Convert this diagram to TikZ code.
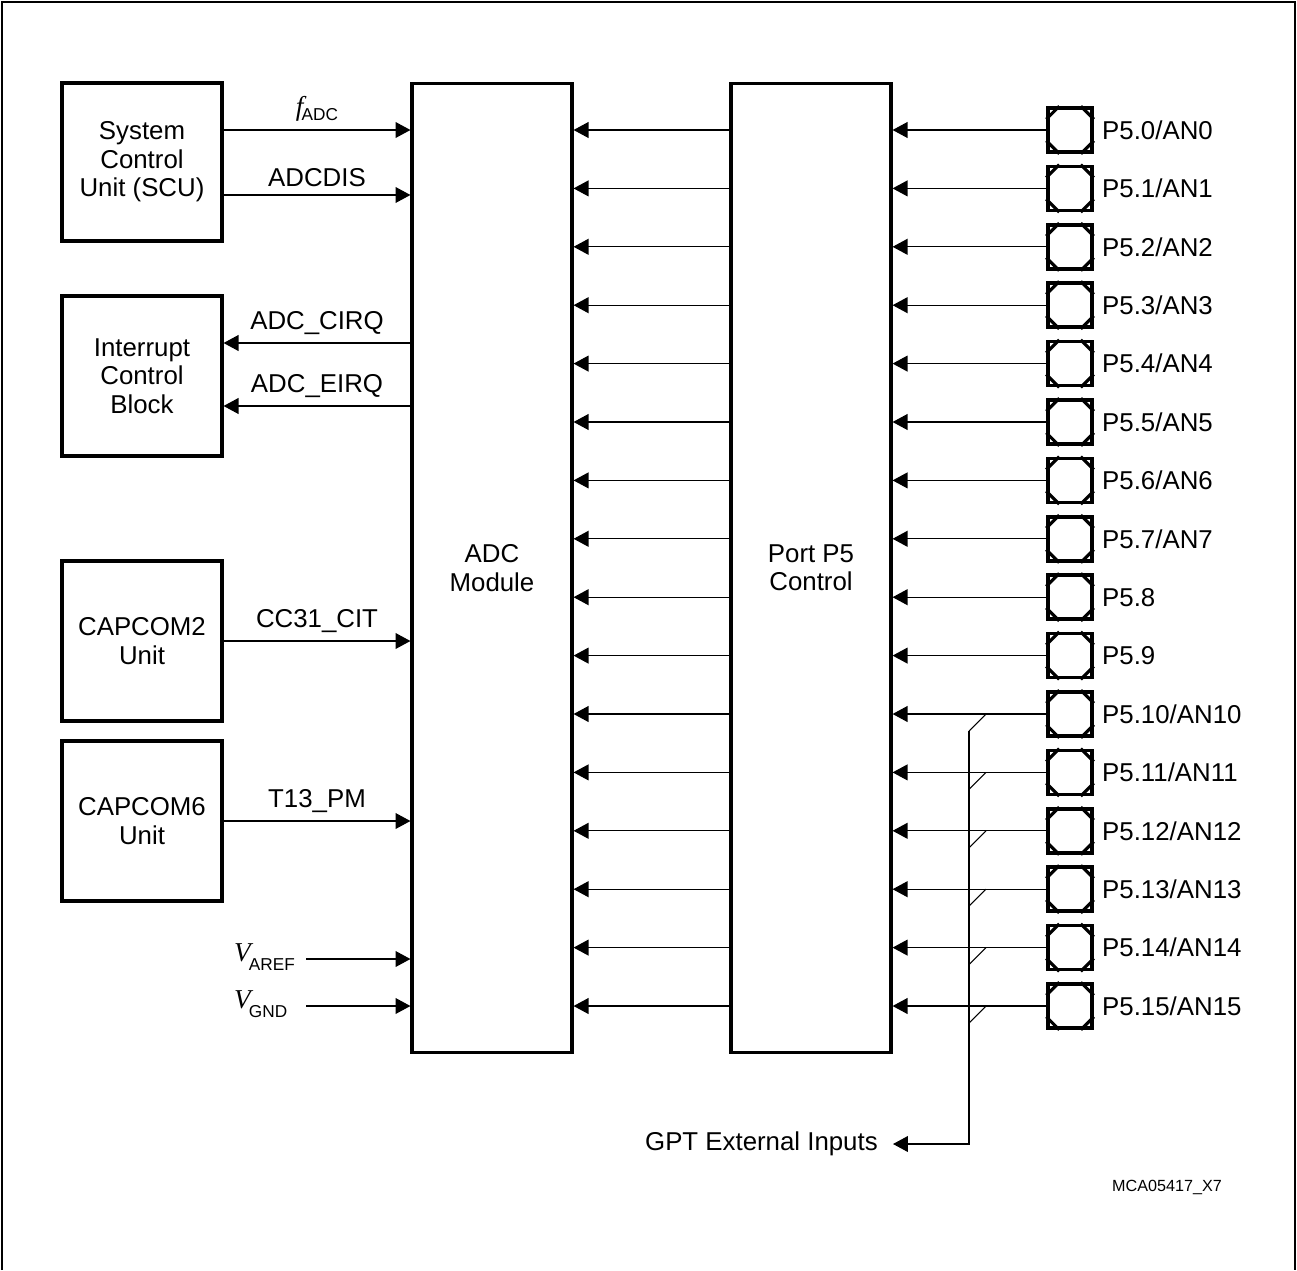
\documentclass[tikz,border=0pt]{standalone}
\usepackage{fontspec}
\setmainfont{Liberation Sans}
\newfontfamily\tms{Liberation Serif}
\usetikzlibrary{arrows.meta, positioning, calc}

% italic symbol with sans subscript
\newcommand\symsub[3]{{\fontsize{15.5}{15}\tms\itshape #1}\kern-1pt\raisebox{#3}{\fontsize{9.8}{10}\selectfont #2}}

\begin{document}
\begin{tikzpicture}[
  x=0.02cm, y=-0.02cm,
  box/.style={draw, line width=1.8pt, minimum width=3.2cm, align=center, font=\fontsize{14.7}{16.2}\selectfont},
  sig/.style={line width=0.7pt, -{Triangle[length=8.5pt, width=9pt]}},
  pad/.style={draw, line width=2pt, minimum size=0.88cm, inner sep=0pt},
  lbl/.style={font=\fontsize{14.7}{16.2}\selectfont},
  corner/.style={line width=1.8pt},
  tap/.style={line width=0.6pt},
]
\useasboundingbox (0,0) rectangle (1297,1270);
\draw[line width=1pt] (2,1270) -- (2,2) -- (1295,2) -- (1295,1270);

% left side blocks
\node[box, minimum height=3.16cm] (scu)  at (142,162) {System\\Control\\Unit (SCU)};
\node[box, minimum height=3.2cm]  (icb)  at (142,376) {Interrupt\\Control\\Block};
\node[box, minimum height=3.2cm]  (cc2)  at (142,641) {CAPCOM2\\Unit};
\node[box, minimum height=3.2cm]  (cc6)  at (142,821) {CAPCOM6\\Unit};

% main blocks
\node[box, minimum height=19.4cm] (adc)  at (492,568) {ADC\\Module};
\node[box, minimum height=19.4cm] (port) at (811,568) {Port P5\\Control};

% left signals
\draw[sig] ([yshift=0.64cm]scu.east) -- node[lbl, above, yshift=1pt] {\symsub{f}{ADC}{-2.5pt}} ([yshift=0.64cm]scu.east -| adc.west);
\draw[sig] ([yshift=-0.66cm]scu.east) -- node[lbl, above, yshift=1pt] {ADCDIS} ([yshift=-0.66cm]scu.east -| adc.west);
\draw[sig] ([yshift=0.66cm]icb.east -| adc.west) -- node[lbl, above, yshift=1pt] {ADC\_CIRQ} ([yshift=0.66cm]icb.east);
\draw[sig] ([yshift=-0.6cm]icb.east -| adc.west) -- node[lbl, above, yshift=1pt] {ADC\_EIRQ} ([yshift=-0.6cm]icb.east);
\draw[sig] (cc2.east) -- node[lbl, above, yshift=1pt] {CC31\_CIT} (cc2.east -| adc.west);
\draw[sig] (cc6.east) -- node[lbl, above, yshift=1pt] {T13\_PM} (cc6.east -| adc.west);

\node[lbl, anchor=west, inner sep=1pt] (vref) at (232,957) {\symsub{V}{AREF}{-5pt}};
\node[lbl, anchor=west, inner sep=1pt] (vgnd) at (232,1004) {\symsub{V}{GND}{-5pt}};
\coordinate (vrefin) at (306,959);
\coordinate (vgndin) at (306,1006);
\draw[sig] (vrefin) -- (vrefin -| adc.west);
\draw[sig] (vgndin) -- (vgndin -| adc.west);

% pads
\foreach \nm [count=\i from 0] in {P5.0/AN0, P5.1/AN1, P5.2/AN2, P5.3/AN3, P5.4/AN4, P5.5/AN5, P5.6/AN6, P5.7/AN7, P5.8, P5.9, P5.10/AN10, P5.11/AN11, P5.12/AN12, P5.13/AN13, P5.14/AN14, P5.15/AN15}{
  \pgfmathsetmacro\py{130+58.4*\i}
  \node[pad] (p\i) at (1070,\py) {};
  \node[lbl, anchor=west] (n\i) at (1096,\py) {\nm};
  \draw[corner] ($(p\i.north west)+(0,13)$) -- ($(p\i.north west)+(13,0)$);
  \draw[corner] ($(p\i.north east)+(0,13)$) -- ($(p\i.north east)+(-13,0)$);
  \draw[corner] ($(p\i.south west)+(0,-13)$) -- ($(p\i.south west)+(13,0)$);
  \draw[corner] ($(p\i.south east)+(0,-13)$) -- ($(p\i.south east)+(-13,0)$);
  \draw[sig] (p\i.west) -- (port.east |- p\i.west);
  \draw[sig] (port.west |- p\i.west) -- (adc.east |- p\i.west);
  \ifnum\i>9 \draw[tap] (986,\py) -- ++(-17,17); \fi
}

% GPT inputs
\coordinate (bustop) at (969,731);
\coordinate (busend) at (969,1144);
\node[lbl, anchor=east, inner xsep=8.5pt] (gpt) at (893,1144) {GPT External Inputs};
\draw[sig] (bustop) -- (busend) -- (gpt.east);

\node[font=\fontsize{9.2}{11}\selectfont] (code) at (1167,1187) {MCA05417\_X7};
\end{tikzpicture}
\end{document}
